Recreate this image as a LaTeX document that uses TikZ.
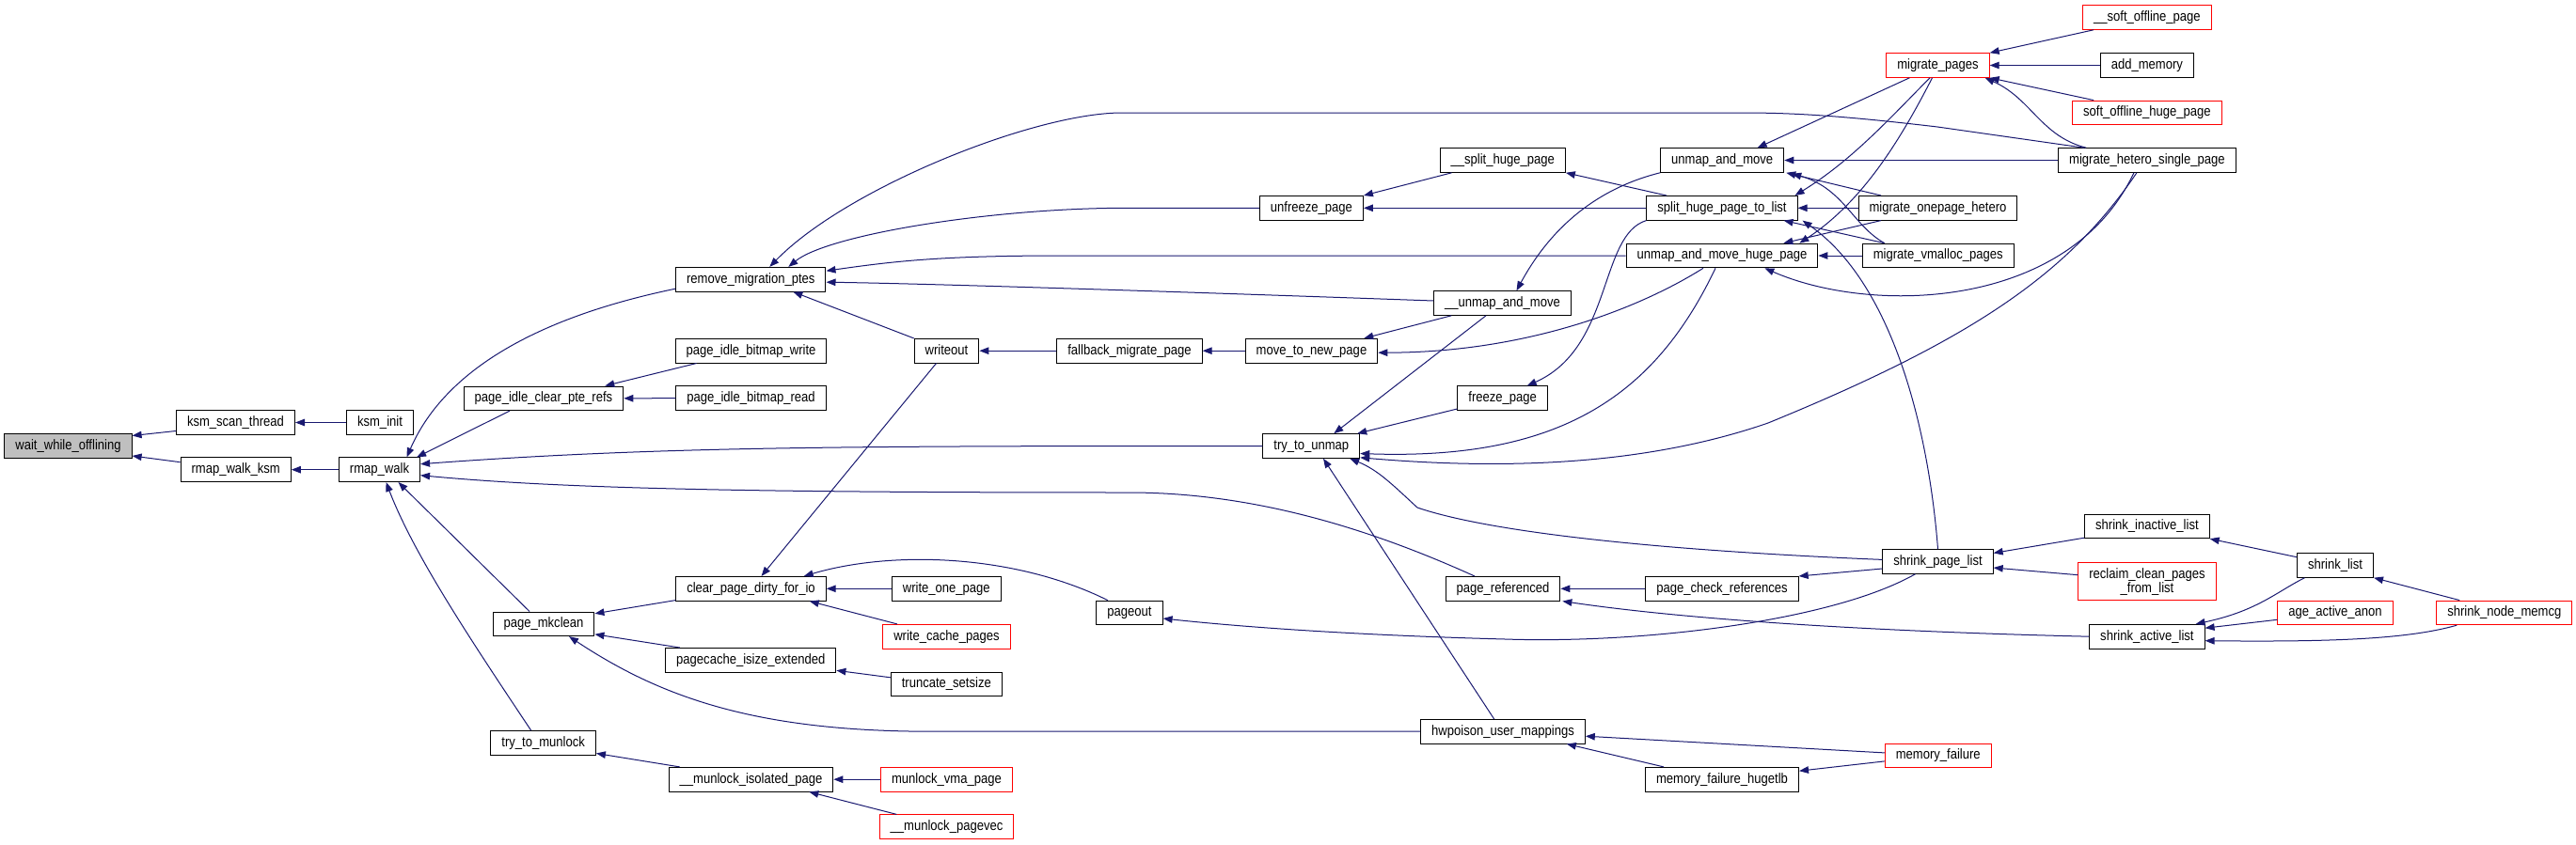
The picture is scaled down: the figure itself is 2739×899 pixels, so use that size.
\documentclass[tikz,border=0pt]{standalone}
\usepackage{fontspec}
\setmainfont[FakeStretch=0.87]{Liberation Sans}
\usetikzlibrary{arrows.meta,calc}
\definecolor{edgeblue}{RGB}{25,25,112}
\definecolor{rootgray}{RGB}{191,191,191}
\definecolor{nodered}{RGB}{255,0,0}
\tikzset{
  fn/.style={draw=black, fill=white, line width=1pt, minimum height=25.6pt, inner xsep=11.5pt, inner ysep=0pt,
    font=\fontsize{15}{17}\selectfont, text height=10.8pt, text depth=3.2pt},
  fnred/.style={fn, draw=nodered},
  fnroot/.style={fn, fill=rootgray},
  fntwo/.style={draw=nodered, fill=white, line width=1pt, minimum height=40pt, inner xsep=11.5pt, inner ysep=2pt,
    font=\fontsize{15}{13.5}\selectfont, align=center},
  edge/.style={draw=edgeblue, line width=1pt, -{Triangle[length=10pt,width=7.5pt]}, fill=none}
}
\begin{document}
\begin{tikzpicture}[x=1pt,y=-1pt]
\useasboundingbox (0,0) rectangle (2739,899);
% nodes
\node[fnroot] (wwo) at (72.5,474.5) {wait\_while\_offlining};
\node[fn] (ks) at (250.5,449.5) {ksm\_scan\_thread};
\node[fn] (ki) at (404,449.5) {ksm\_init};
\node[fn] (rwk) at (250.7,499.7) {rmap\_walk\_ksm};
\node[fn] (rw) at (403.5,499.7) {rmap\_walk};
\node[fn] (pm) at (578,663.8) {page\_mkclean};
\node[fn] (tm) at (577.7,790.5) {try\_to\_munlock};
\node[fn] (picr) at (578,423.8) {page\_idle\_clear\_pte\_refs};
\node[fn] (rmp) at (798.3,297.2) {remove\_migration\_ptes};
\node[fn] (pibw) at (798.5,373.2) {page\_idle\_bitmap\_write};
\node[fn] (pibr) at (798.5,423.7) {page\_idle\_bitmap\_read};
\node[fn] (wo) at (1006.5,373.2) {writeout};
\node[fn] (fmp) at (1201,373.2) {fallback\_migrate\_page};
\node[fn] (mtnp) at (1394.5,373.2) {move\_to\_new\_page};
\node[fn] (ufp) at (1394.4,221.3) {unfreeze\_page};
\node[fn] (ttu) at (1394.3,474.5) {try\_to\_unmap};
\node[fn] (cpd) at (798.5,626.3) {clear\_page\_dirty\_for\_io};
\node[fn] (wop) at (1006.3,626.3) {write\_one\_page};
\node[fnred] (wcp) at (1006.5,677.2) {write\_cache\_pages};
\node[fn] (pie) at (798.3,702.3) {pagecache\_isize\_extended};
\node[fn] (ts) at (1006.3,727.8) {truncate\_setsize};
\node[fn] (po) at (1201,652) {pageout};
\node[fn] (mip) at (798.5,829.2) {\_\_munlock\_isolated\_page};
\node[fnred] (mvp) at (1006.5,829.2) {munlock\_vma\_page};
\node[fnred] (mpv) at (1006.5,879.7) {\_\_munlock\_pagevec};
\node[fn] (shp) at (1597.7,170.5) {\_\_split\_huge\_page};
\node[fn] (uamv) at (1831.2,170.5) {unmap\_and\_move};
\node[fn] (shtl) at (1831,221.3) {split\_huge\_page\_to\_list};
\node[fn] (umhp) at (1831,272) {unmap\_and\_move\_huge\_page};
\node[fn] (uam) at (1597.5,322.5) {\_\_unmap\_and\_move};
\node[fn] (fp) at (1597.7,423.7) {freeze\_page};
\node[fnred] (mp) at (2060.5,69.5) {migrate\_pages};
\node[fn] (moh) at (2060.5,221.3) {migrate\_onepage\_hetero};
\node[fn] (mvmp) at (2060.7,272) {migrate\_vmalloc\_pages};
\node[fnred] (sop) at (2282.9,18.5) {\_\_soft\_offline\_page};
\node[fn] (am) at (2282.9,69.5) {add\_memory};
\node[fnred] (sohp) at (2282.9,119.9) {soft\_offline\_huge\_page};
\node[fn] (mhsp) at (2282.9,170.5) {migrate\_hetero\_single\_page};
\node[fn] (pr) at (1598,626.3) {page\_referenced};
\node[fn] (pcr) at (1831,626.3) {page\_check\_references};
\node[fn] (hum) at (1598,778.2) {hwpoison\_user\_mappings};
\node[fn] (mfh) at (1831,829.2) {memory\_failure\_hugetlb};
\node[fn] (spl) at (2060.5,597.4) {shrink\_page\_list};
\node[fnred] (mf) at (2060.7,803.9) {memory\_failure};
\node[fn] (sil) at (2282.9,559.9) {shrink\_inactive\_list};
\node[fntwo] (rcp) at (2283,618.7) {reclaim\_clean\_pages\\\_from\_list};
\node[fn] (sl) at (2483,601.4) {shrink\_list};
\node[fnred] (aaa) at (2483,651.9) {age\_active\_anon};
\node[fnred] (snm) at (2662.8,651.9) {shrink\_node\_memcg};
\node[fn] (sal) at (2282.9,677.2) {shrink\_active\_list};
% edges (caller -> callee)
\draw[edge] ($(ks.west)+(0,9)$) -- ($(wwo.east)+(0,-11)$);
\draw[edge] ($(rwk.west)+(0,-8)$) -- ($(wwo.east)+(0,10.5)$);
\draw[edge] (ki.west) -- (ks.east);
\draw[edge] (rw.west) -- (rwk.east);
\draw[edge] ($(rmp.west)+(0,10)$) .. controls (560,340) and (470,400) .. ($(rw.north)+(29,0)$);
\draw[edge] ($(picr.south)+(-36,0)$) -- ($(rw.north east)+(-4,0)$);
\draw[edge] ($(pibw.south west)+(23,0)$) -- ($(picr.north east)+(-20,0)$);
\draw[edge] (pibr.west) -- (picr.east);
\draw[edge] (ttu.west) .. controls (900,474.5) and (700,475) .. ($(rw.east)+(0,-6)$);
\draw[edge] ($(pr.north)+(-30,0)$) .. controls (1440,555) and (1320,524) .. (1200,524) .. controls (800,524) and (600,520) .. ($(rw.east)+(0,6)$);
\draw[edge] ($(pm.north)+(-15,0)$) -- ($(rw.south)+(20,0)$);
\draw[edge] ($(tm.north)+(-13,0)$) .. controls (500,680) and (440,590) .. ($(rw.south)+(7,0)$);
\draw[edge] ($(cpd.south west)+(0,-1)$) -- ($(pm.east)+(0,-11)$);
\draw[edge] ($(pie.north west)+(15.6,0)$) -- ($(pm.east)+(0,11)$);
\draw[edge] (hum.west) -- (990,778.2) .. controls (800,778.2) and (700,740) .. ($(pm.south)+(27,0)$);
\draw[edge] ($(mip.north west)+(12,0)$) -- ($(tm.east)+(0,11)$);
\draw[edge] (mvp.west) -- (mip.east);
\draw[edge] ($(mpv.north west)+(18.7,0)$) -- ($(mip.south east)+(-26,0)$);
\draw[edge] ($(wo.south)+(-11,0)$) -- ($(cpd.north)+(11,0)$);
\draw[edge] (wop.west) -- (cpd.east);
\draw[edge] ($(wcp.north west)+(15.6,0)$) -- ($(cpd.south east)+(-18,0)$);
\draw[edge] ($(po.north)+(-23,0)$) .. controls (1080,590) and (950,585) .. ($(cpd.north east)+(-24,0)$);
\draw[edge] ($(ts.west)+(0,-7)$) -- ($(pie.east)+(0,11)$);
\draw[edge] ($(spl.south)+(-24,0)$) .. controls (1950,660) and (1750,685) .. (1600,680) .. controls (1450,676) and (1330,668) .. ($(po.east)+(0,6)$);
\draw[edge] ($(mhsp.north west)+(27.7,0)$) -- (2060,135) .. controls (1950,122) and (1900,120) .. (1851,120) -- (1193,120) .. controls (1100,120) and (900,200) .. ($(rmp.north)+(20,0)$);
\draw[edge] (ufp.west) -- (1193,221.3) .. controls (1050,222) and (880,250) .. ($(rmp.north)+(40,0)$);
\draw[edge] (umhp.west) -- (1130,272) .. controls (1000,272) and (950,278) .. ($(rmp.east)+(0,-9)$);
\draw[edge] ($(uam.west)+(0,-2.5)$) .. controls (1300,312) and (1000,302) .. ($(rmp.east)+(0,3)$);
\draw[edge] (wo.north west) -- ($(rmp.south)+(45,0)$);
\draw[edge] (fmp.west) -- (wo.east);
\draw[edge] (mtnp.west) -- (fmp.east);
\draw[edge] ($(uam.south west)+(19,0)$) -- ($(mtnp.north east)+(-15,0)$);
\draw[edge] ($(umhp.south)+(-20,0)$) .. controls (1740,330) and (1620,375) .. ($(mtnp.east)+(0,2)$);
\draw[edge] ($(shp.south west)+(13,0)$) -- (ufp.north east);
\draw[edge] (shtl.west) -- (ufp.east);
\draw[edge] ($(shtl.north west)+(21.5,0)$) -- (shp.south east);
\draw[edge] (uamv.south west) .. controls (1700,200) and (1650,240) .. ($(uam.north)+(15,0)$);
\draw[edge] (shtl.south west) .. controls (1700,250) and (1715,370) .. ($(fp.north)+(26,0)$);
\draw[edge] ($(fp.south west)+(0,-2)$) -- ($(ttu.north east)+(-3,0)$);
\draw[edge] ($(uam.south)+(-17.5,0)$) -- ($(ttu.north)+(24,0)$);
\draw[edge] ($(umhp.south)+(-7,0)$) .. controls (1760,420) and (1660,490) .. ($(ttu.east)+(0,8)$);
\draw[edge] ($(mhsp.south)+(-11,0)$) .. controls (2200,290) and (2100,360) .. (1880,450) .. controls (1750,495) and (1600,500) .. ($(ttu.south east)+(0,-1)$);
\draw[edge] ($(mhsp.south)+(-14,0)$) .. controls (2200,330) and (1990,335) .. ($(umhp.south east)+(-57,0)$);
\draw[edge] ($(spl.west)+(0,-2)$) .. controls (1750,585) and (1580,565) .. (1507,540) .. controls (1480,515) and (1465,500) .. ($(ttu.south east)+(-11,0)$);
\draw[edge] ($(hum.north)+(-9.4,0)$) -- ($(ttu.south)+(12.7,0)$);
\draw[edge] (pcr.west) -- (pr.east);
\draw[edge] (sal.west) .. controls (2000,672) and (1800,660) .. ($(pr.south east)+(2,0)$);
\draw[edge] ($(sil.south west)+(0,-1)$) -- ($(spl.east)+(0,-9)$);
\draw[edge] ($(rcp.west)+(0,-7)$) -- ($(spl.east)+(0,6.6)$);
\draw[edge] ($(spl.west)+(0,7.6)$) -- (pcr.north east);
\draw[edge] ($(sl.west)+(0,-8.7)$) -- (sil.south east);
\draw[edge] ($(sl.south west)+(8.5,0)$) .. controls (2420,630) and (2400,650) .. ($(sal.north east)+(-10,0)$);
\draw[edge] ($(aaa.west)+(0,7.4)$) -- ($(sal.east)+(0,-9)$);
\draw[edge] ($(snm.south west)+(22,0)$) .. controls (2560,680) and (2480,683) .. ($(sal.east)+(0,4.5)$);
\draw[edge] ($(snm.north west)+(25,0)$) -- (sl.south east);
\draw[edge] ($(mf.west)+(0,-3)$) -- ($(hum.east)+(0,5)$);
\draw[edge] ($(mf.west)+(0,6)$) -- ($(mfh.east)+(0,-9)$);
\draw[edge] ($(mfh.north west)+(20,0)$) -- ($(hum.south east)+(-20,0)$);
\draw[edge] ($(mp.south west)+(25,0)$) -- ($(uamv.north east)+(-28.6,0)$);
\draw[edge] ($(mp.south)+(-8.5,0)$) .. controls (2010,125) and (1970,170) .. ($(shtl.north east)+(-3,0)$);
\draw[edge] ($(mp.south)+(-6,0)$) .. controls (2020,150) and (1980,215) .. ($(umhp.north east)+(-20,0)$);
\draw[edge] ($(sop.south west)+(12,0)$) -- (mp.north east);
\draw[edge] (am.west) -- (mp.east);
\draw[edge] ($(sohp.north west)+(23,0)$) -- (mp.south east);
\draw[edge] ($(mhsp.north west)+(30,0)$) .. controls (2170,145) and (2160,105) .. ($(mp.south east)+(-5,0)$);
\draw[edge] (mhsp.west) -- (uamv.east);
\draw[edge] ($(moh.north west)+(24.5,0)$) -- ($(uamv.south east)+(2,0)$);
\draw[edge] (moh.west) -- (shtl.east);
\draw[edge] ($(moh.south west)+(24.5,0)$) -- ($(umhp.north east)+(-37,0)$);
\draw[edge] ($(mvmp.north west)+(24,0)$) .. controls (1970,240) and (1960,200) .. ($(uamv.south east)+(8,1)$);
\draw[edge] ($(mvmp.north west)+(24,0)$) -- ($(shtl.south east)+(-15,0)$);
\draw[edge] (mvmp.west) -- (umhp.east);
\draw[edge] (spl.north) .. controls (2050,450) and (2010,300) .. ($(shtl.south east)+(5,0)$);
\end{tikzpicture}
\end{document}
